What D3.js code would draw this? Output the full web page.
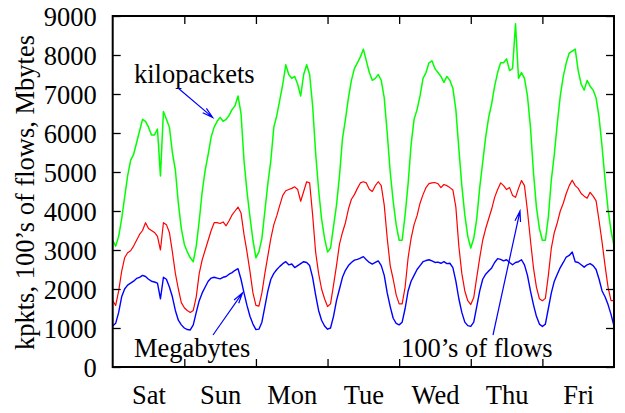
<!DOCTYPE html>
<html>
<head>
<meta charset="utf-8">
<script src="https://cdn.jsdelivr.net/npm/d3@7/dist/d3.min.js"></script>
<style>
  html, body { margin: 0; padding: 0; background: #fff; }
</style>
</head>
<body>
<svg id="chart" width="625" height="413"></svg>
<script>
// One week of link traffic, sampled hourly (hour 0 = Saturday 00:00).
const days = ["Sat", "Sun", "Mon", "Tue", "Wed", "Thu", "Fri"];
const yTicks = [0, 1000, 2000, 3000, 4000, 5000, 6000, 7000, 8000, 9000];

// kilopackets
const kilopackets = [
  3250, 3100, 3350, 3800, 4350, 4900, 5300, 5450, 5750, 6050, 6350, 6300,
  6150, 5950, 5950, 6100, 4900, 6550, 6350, 6150, 5500, 5050, 4200, 3550,
  3150, 2950, 2800, 2700, 3100, 3750, 4500, 5050, 5450, 5900, 6150, 6300,
  6400, 6300, 6350, 6450, 6600, 6700, 6950, 6500, 5300, 4500, 3850, 3250,
  2800, 2950, 3300, 4000, 4700, 5300, 6150, 6450, 6850, 7250, 7750, 7500,
  7400, 7450, 7250, 6950, 7500, 7750, 7500, 6700, 5500, 4550, 3800, 3300,
  2950, 3050, 3600, 4150, 4900, 5850, 6350, 6900, 7350, 7650, 7800, 7950,
  8150, 7850, 7550, 7350, 7400, 7500, 7350, 6900, 6000, 5000, 4250, 3650,
  3250, 3250, 3900, 4700, 5700, 6350, 6600, 6950, 7400, 7550, 7800, 7850,
  7650, 7550, 7450, 7300, 7450, 7350, 7150, 6600, 5600, 4650, 3900, 3350,
  3050, 3300, 3800, 4600, 5250, 5900, 6400, 6750, 7200, 7550, 7800, 7800,
  7900, 7600, 7650, 8800, 7400, 7550, 7400, 6950, 6150, 5000, 4100, 3550,
  3250, 3250, 3850, 4800, 5450, 6250, 6950, 7450, 7800, 8050, 8100, 8150,
  7600, 7250, 7100, 7350, 7200, 7100, 6900, 6400, 5650, 4800, 4050, 3500,
  3100
];

// hundreds of flows
const flows = [
  1700, 1580, 1950, 2450, 2800, 2930, 2980, 3100, 3250, 3400, 3500, 3700,
  3550, 3500, 3450, 3350, 3000, 3700, 3650, 3450, 2950, 2400, 2000, 1650,
  1520, 1450, 1400, 1450, 1800, 2400, 2750, 3000, 3250, 3500, 3700, 3700,
  3680, 3720, 3620, 3750, 3900, 4000, 4100, 3950, 3400, 2950, 2450, 1900,
  1580, 1560, 1900, 2400, 2850, 3300, 3650, 3880, 4150, 4400, 4520, 4550,
  4580, 4620, 4550, 4250, 4500, 4750, 4720, 3900, 2950, 2400, 2000, 1750,
  1550, 1620, 2100, 2600, 3150, 3450, 3700, 4050, 4300, 4420, 4580, 4720,
  4750, 4720, 4560, 4500, 4650, 4750, 4650, 4150, 3300, 2600, 2250, 1850,
  1620, 1620, 2050, 2800, 3300, 3650, 3880, 4200, 4420, 4600, 4700, 4720,
  4730, 4700, 4600, 4680, 4650, 4600, 4540, 4100, 3100, 2400, 1950, 1700,
  1600, 1780, 2300, 2800, 3250, 3550, 3800, 4050, 4350, 4550, 4720, 4650,
  4550, 4600, 4400, 4350, 4580, 4780, 4650, 4000, 3250, 2550, 2050, 1750,
  1700, 1760, 2350, 3050, 3450, 3700, 4000, 4200, 4450, 4650, 4790, 4650,
  4580, 4450, 4380, 4330, 4480, 4380, 4260, 3750, 3200, 2600, 2050, 1700,
  1700
];

// megabytes
const megabytes = [
  1050, 1120, 1400, 1800, 2000, 2100, 2150, 2200, 2270, 2300, 2350, 2320,
  2250, 2200, 2180, 2150, 1750, 2300, 2250, 2050, 1800, 1450, 1200, 1080,
  1000,  960,  950, 1080, 1400, 1700, 1900, 2050, 2200, 2280, 2300, 2280,
  2260, 2300, 2320, 2380, 2420, 2480, 2520, 2250, 1900, 1580, 1300, 1100,
   960,  970, 1150, 1550, 1950, 2250, 2400, 2500, 2580, 2650, 2700, 2620,
  2640, 2550, 2600, 2650, 2700, 2680, 2600, 2300, 1850, 1450, 1200, 1050,
   970, 1000, 1300, 1700, 2000, 2300, 2480, 2600, 2680, 2740, 2760, 2790,
  2830, 2750, 2680, 2640, 2680, 2720, 2600, 2350, 1900, 1550, 1250, 1120,
  1080, 1150, 1500, 1950, 2200, 2350, 2500, 2600, 2700, 2730, 2750, 2720,
  2680, 2690, 2660, 2700, 2650, 2660, 2550, 2200, 1750, 1400, 1150, 1060,
  1040, 1150, 1550, 1950, 2250, 2380, 2460, 2540, 2680, 2780, 2760, 2720,
  2750, 2680, 2620, 2680, 2700, 2750, 2620, 2350, 1950, 1600, 1300, 1100,
  1040, 1100, 1500, 1900, 2200, 2380, 2550, 2680, 2820, 2860, 2950, 2700,
  2680, 2620, 2560, 2620, 2650, 2600, 2500, 2250, 1950, 1800, 1600, 1350,
  1050
];

const seriesList = [
  { name: "kilopackets", values: kilopackets, color: "#00ff00", width: 1.5 },
  { name: "flows", values: flows, color: "#ff0000", width: 1.2 },
  { name: "megabytes", values: megabytes, color: "#0000ff", width: 1.4 }
];

const serif = "'Liberation Serif', 'Times New Roman', Times, 'DejaVu Serif', serif";
const svg = d3.select("#chart").style("font-family", serif);
const plotLeft = 112.7, plotRight = 614, plotTop = 16, plotBottom = 367;
const fontSize = 26.5;

const x = d3.scaleLinear().domain([0, 168]).range([plotLeft, plotRight]);
const y = d3.scaleLinear().domain([0, 9000]).range([plotBottom, plotTop]);

// data lines
const line = d3.line()
  .x((d, i) => x(i))
  .y(d => y(d));

svg.append("g").selectAll("path")
  .data(seriesList)
  .join("path")
  .attr("d", s => line(s.values))
  .attr("fill", "none")
  .attr("stroke", s => s.color)
  .attr("stroke-width", s => s.width)
  .attr("stroke-linejoin", "round");

// axes with inward ticks on all four sides
const midnights = d3.range(1, 7).map(d => d * 24);
const noons = days.map((d, i) => i * 24 + 12);

const styleAxis = g => {
  g.attr("font-family", null).style("font-family", serif).attr("font-size", fontSize);
  g.select(".domain").remove();
  g.selectAll(".tick line").attr("stroke", "#000").attr("stroke-width", 1.3);
  g.selectAll(".tick text").style("font-family", serif).attr("font-size", fontSize).attr("fill", "#000");
};

svg.append("g")
  .attr("transform", `translate(${plotLeft},0)`)
  .call(d3.axisLeft(y).tickValues(yTicks).tickSize(-8).tickPadding(16).tickFormat(d3.format("d")))
  .call(styleAxis)
  .call(g => g.selectAll(".tick text").attr("dy", "0.36em"));

svg.append("g")
  .attr("transform", `translate(${plotRight},0)`)
  .call(d3.axisRight(y).tickValues(yTicks).tickSize(-8).tickFormat(""))
  .call(styleAxis);

svg.append("g")
  .attr("transform", `translate(0,${plotBottom})`)
  .call(d3.axisBottom(x).tickValues(midnights).tickSize(-8).tickFormat(""))
  .call(styleAxis);

svg.append("g")
  .attr("transform", `translate(0,${plotTop})`)
  .call(d3.axisTop(x).tickValues(midnights).tickSize(-8).tickFormat(""))
  .call(styleAxis);

// day names centred on each day
svg.append("g")
  .attr("transform", `translate(0,${plotBottom})`)
  .call(d3.axisBottom(x).tickValues(noons).tickSize(0).tickPadding(18)
    .tickFormat((d, i) => days[i]))
  .call(styleAxis);

// frame
svg.append("rect")
  .attr("x", plotLeft).attr("y", plotTop)
  .attr("width", plotRight - plotLeft).attr("height", plotBottom - plotTop)
  .attr("fill", "none").attr("stroke", "#000").attr("stroke-width", 2);

// y-axis title
svg.append("text")
  .attr("transform", `translate(34,${(plotTop + plotBottom) / 2 + 1}) rotate(-90)`)
  .attr("text-anchor", "middle")
  .style("font-family", serif)
  .attr("font-size", fontSize)
  .text("kpkts, 100\u2019s of flows, Mbytes");

// series annotations with arrows (tail in pixels, tip at hour/value)
const notes = [
  { text: "kilopackets", tx: 134, ty: 83, from: [178, 88], to: [33.5, 6400] },
  { text: "Megabytes", tx: 134, ty: 357, from: [213, 335], to: [43.5, 1900] },
  { text: "100\u2019s of flows", tx: 401, ty: 357, from: [493, 335], to: [136.5, 4000] }
];

const ann = svg.append("g");
notes.forEach(n => {
  ann.append("text")
    .attr("x", n.tx).attr("y", n.ty)
    .style("font-family", serif)
    .attr("font-size", fontSize)
    .text(n.text);
  const x0 = n.from[0], y0 = n.from[1];
  const x1 = x(n.to[0]), y1 = y(n.to[1]);
  const ang = Math.atan2(y1 - y0, x1 - x0);
  const len = 11, spread = 0.26;
  const hx = a => x1 - len * Math.cos(ang + a);
  const hy = a => y1 - len * Math.sin(ang + a);
  ann.append("path")
    .attr("d", `M${x0},${y0}L${x1},${y1}M${hx(spread)},${hy(spread)}L${x1},${y1}L${hx(-spread)},${hy(-spread)}`)
    .attr("fill", "none")
    .attr("stroke", "#0000ff")
    .attr("stroke-width", 1.2);
});
</script>
</body>
</html>
